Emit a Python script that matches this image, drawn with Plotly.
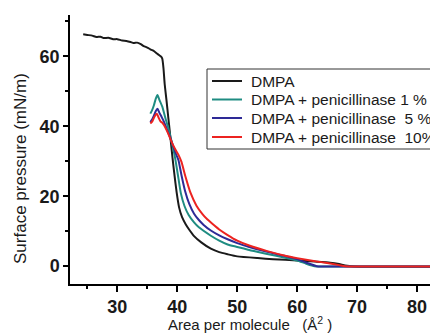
import plotly.graph_objects as go

# ---- data ----
dmpa_x = [24.3, 25.0, 25.8, 26.5, 27.2, 27.7, 28.5, 29.3, 30.0, 30.8, 31.5, 32.2, 32.7, 33.3, 33.9, 34.4,
          35.0, 35.5, 36.0, 36.6, 37.0, 37.3, 37.5, 37.7, 37.9, 38.2, 38.5, 38.9, 39.2, 39.5, 39.9, 40.3,
          40.8, 41.4, 42.0, 42.8, 44.0, 45.6, 47.0, 48.4, 50.0, 53.4, 56.0, 60.0, 63.0, 65.5, 67.0, 68.0,
          69.5, 72.0, 76.0, 80.0, 84.0]
dmpa_y = [66.3, 66.1, 65.9, 65.5, 65.6, 65.2, 65.3, 64.9, 64.9, 64.5, 64.4, 64.1, 63.8, 63.9, 63.5, 62.9,
          62.5, 62.0, 61.6, 60.8, 60.3, 59.9, 59.3, 56.5, 52.0, 47.4, 42.5, 36.0, 31.0, 26.5, 21.0, 16.8,
          14.0, 12.0, 10.4, 8.6, 6.8, 5.0, 4.0, 3.4, 2.8, 2.3, 2.0, 1.6, 1.3, 1.0, 0.6, 0.2,
          -0.1, -0.2, -0.2, -0.2, -0.2]

p1_x = [35.5, 35.8, 36.1, 36.4, 36.7, 37.0, 37.5, 38.0, 38.5, 39.0, 39.4, 39.7, 40.2, 40.6, 41.2, 41.9,
        42.8, 43.6, 45.6, 47.0, 48.4, 50.0, 52.0, 55.0, 58.0, 60.0, 61.5, 62.9, 66.0, 70.0, 75.0, 80.0, 84.0]
p1_y = [43.6, 44.6, 46.0, 47.8, 48.9, 47.6, 45.6, 42.4, 39.5, 36.0, 33.0, 30.3, 25.0, 20.8, 17.2, 14.6,
        12.5, 11.1, 8.7, 7.3, 6.2, 5.5, 4.6, 3.5, 2.4, 1.6, 0.7, 0.0, -0.1, -0.1, -0.1, -0.1, -0.1]

p5_x = [35.5, 35.8, 36.1, 36.4, 36.7, 37.0, 37.4, 37.8, 38.3, 38.8, 39.3, 39.8, 40.2, 40.7, 41.3, 42.0,
        42.8, 43.6, 44.4, 45.6, 47.0, 48.4, 50.0, 52.0, 55.0, 58.0, 60.0, 61.5, 63.3, 66.0, 70.0, 75.0, 80.0, 84.0]
p5_y = [41.2, 41.9, 43.0, 44.3, 45.0, 43.9, 42.6, 41.2, 39.0, 36.8, 34.4, 32.0, 30.3, 26.0, 21.5, 17.8,
        15.0, 13.2, 11.8, 10.2, 8.8, 7.7, 6.6, 5.5, 4.1, 2.9, 2.0, 1.0, 0.0, -0.1, -0.1, -0.1, -0.1, -0.1]

p10_x = [35.5, 35.8, 36.1, 36.3, 36.6, 36.9, 37.2, 37.5, 37.8, 38.3, 38.8, 39.3, 39.8, 40.2, 40.7, 41.3,
         42.2, 43.2, 44.2, 45.0, 45.8, 47.0, 48.4, 50.0, 52.0, 55.0, 58.0, 60.0, 63.0, 65.0, 67.0, 68.0,
         70.0, 75.0, 80.0, 84.0]
p10_y = [40.8, 41.3, 42.4, 43.0, 43.6, 42.4, 41.4, 41.0, 40.3, 38.6, 36.6, 34.6, 33.0, 31.8, 29.8, 26.0,
         21.0, 17.3, 14.9, 13.4, 12.2, 10.5, 8.9, 7.3, 5.9, 4.3, 3.0, 2.3, 1.4, 0.9, 0.3, 0.0,
         -0.1, -0.1, -0.1, -0.1]

series_names = ["DMPA",
                "DMPA + penicillinase 1 %",
                "DMPA + penicillinase\u00a0\u00a05 %",
                "DMPA + penicillinase\u00a0\u00a010%"]
series_colors = ["#1a1a1a", "#1f8c82", "#2e2a96", "#ec2320"]

x_tickvals = [30, 40, 50, 60, 70, 80]
y_tickvals = [0, 20, 40, 60]

FONT = "Liberation Sans, Arial, sans-serif"

# plot area in page pixels (page body has 8px margin)
PL, PR, PT, PB = 70, 438, 15, 284


def px_x(p):
    return (p - PL) / (PR - PL)


def px_y(p):
    return (PB - p) / (PB - PT)


fig = go.Figure()
for xs, ys, name, col in zip([dmpa_x, p1_x, p5_x, p10_x], [dmpa_y, p1_y, p5_y, p10_y],
                             series_names, series_colors):
    fig.add_trace(go.Scatter(x=xs, y=ys, mode="lines", name=name, showlegend=False,
                             line=dict(color=col, width=2, shape="spline", smoothing=0.5)))

axis_common = dict(showline=True, linecolor="black", linewidth=1.5, ticks="outside",
                   tickcolor="black", tickwidth=1.5, showgrid=False, zeroline=False,
                   tickfont=dict(family=FONT, size=18, color="#1a1a1a", weight="bold"))

# legend drawn as a framed box with line samples and text labels
shapes = [dict(type="rect", xref="paper", yref="paper",
               x0=px_x(207), x1=px_x(437.5), y0=px_y(149), y1=px_y(69),
               line=dict(color="#333", width=1), fillcolor="white", layer="above")]
annotations = []
row_y = [81, 99.5, 118, 137]
for name, col, ry in zip(series_names, series_colors, row_y):
    shapes.append(dict(type="line", xref="paper", yref="paper",
                       x0=px_x(212), x1=px_x(242), y0=px_y(ry), y1=px_y(ry),
                       line=dict(color=col, width=2), layer="above"))
    annotations.append(dict(text=name, xref="paper", yref="paper", x=px_x(249), y=px_y(ry),
                            xanchor="left", yanchor="middle", showarrow=False,
                            font=dict(family=FONT, size=15.5, color="#1a1a1a")))

annotations += [
    dict(text="Surface pressure (mN/m)", xref="paper", yref="paper",
         x=px_x(20), y=px_y(169), textangle=-90, showarrow=False,
         xanchor="center", yanchor="middle",
         font=dict(family=FONT, size=17, color="#1a1a1a")),
    dict(text="Area per molecule\u00a0\u00a0\u00a0(Å<sup>2</sup> )", xref="paper", yref="paper",
         x=px_x(250), y=px_y(323), showarrow=False,
         xanchor="center", yanchor="middle",
         font=dict(family=FONT, size=15, color="#1a1a1a")),
]

# figure is 430x327 so it fills 8..438 x 8..335 of the page
fig.update_layout(
    width=430, height=327,
    margin=dict(l=62, r=0, t=7, b=51),
    paper_bgcolor="white", plot_bgcolor="white",
    xaxis=dict(range=[22.1, 83.5], tickmode="array", tickvals=x_tickvals, ticklen=6,
               minor=dict(dtick=5, tick0=25, ticklen=3, ticks="outside", tickcolor="black", tickwidth=1.5),
               **axis_common),
    yaxis=dict(range=[-5.1, 71.8], tickmode="array", tickvals=y_tickvals, ticklen=5,
               minor=dict(dtick=10, tick0=10, ticklen=3, ticks="outside", tickcolor="black", tickwidth=1.5),
               **axis_common),
    showlegend=False,
    shapes=shapes,
    annotations=annotations,
)

fig.write_html("out.html")
